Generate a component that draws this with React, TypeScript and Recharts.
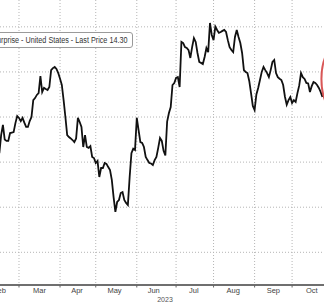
import React from "react";
import { LineChart, Line, XAxis, YAxis, CartesianGrid } from "recharts";

// Trading-day index counted from 1 Mar 2023 (weekdays only)
const firstTradingDay = -12;
const surprise = [
  -13.0, -16.0, -8.0, -3.5, -10.0, -10.6, -10.6, -7.1, -6.9, -6.7, -2.7, 0.4,
  -0.4, -1.8, -0.4, -2.5, -4.4, -4.4, -1.8, 0.0, 7.5, 8.4, 9.8, 10.6,
  18.2, 11.1, 12.9, 12.4, 12.0, 13.3, 20.8, 21.7, 22.2, 21.3, 19.5, 17.0,
  14.2, 7.5, 0.0, -8.0, -8.9, -9.5, -10.2, -11.1, -9.5, -0.4, -2.2, -4.4,
  -13.3, -8.0, -13.3, -13.7, -12.9, -17.7, -18.2, -20.4, -19.5, -26.6, -22.6, -22.6,
  -20.4, -20.8, -22.2, -23.5, -27.9, -35.5, -42.1, -37.7, -36.8, -33.7, -33.3, -36.8,
  -38.1, -39.0, -26.6, -16.0, -14.0, -14.6, -0.4, -5.8, -11.1, -11.5, -13.3, -17.7,
  -19.1, -20.4, -20.6, -21.3, -19.1, -17.7, -13.7, -9.3, -10.6, -15.0, -17.0, -2.0,
  1.8, 4.4, 14.2, 15.1, 17.3, 17.7, 13.3, 33.3, 32.8, 31.0, 30.6, 29.7,
  26.2, 31.0, 35.0, 33.3, 28.4, 24.4, 24.0, 23.5, 26.6, 30.6, 28.8, 41.7,
  36.4, 34.1, 40.1, 38.6, 37.3, 37.7, 38.2, 38.6, 37.7, 34.1, 31.0, 29.7,
  28.8, 35.5, 38.6, 35.5, 32.8, 28.4, 20.8, 20.0, 19.5, 16.0, 10.6, 4.9,
  3.1, 10.0, 12.9, 16.4, 20.0, 22.2, 20.8, 19.5, 17.7, 20.8, 24.4, 25.3,
  19.5, 17.7, 17.0, 16.4, 14.2, 9.0, 5.5, 7.5, 8.9, 6.2, 7.5, 6.7,
  10.6, 14.0, 19.5, 17.7, 16.9, 15.1, 14.9, 11.1, 13.7, 15.5, 15.1, 14.2,
  12.9, 11.1, 8.9,
];

const monthStarts = [0, 23, 43, 66, 88, 109, 132, 153];
const monthLabelPos = [-11, 11.5, 32.5, 53.5, 75.5, 98, 120, 142.5, 164];
const monthLabels = ["Feb", "Mar", "Apr", "May", "Jun", "Jul", "Aug", "Sep", "Oct"];
const yearLabel = "2023";
const yTicks = [-60, -40, -20, 0, 20, 40];
const xDomain: [number, number] = [-14, 172];
const yDomain: [number, number] = [-74.5, 51.9];
const seriesName = "Citi Economic Surprise - United States";
const lastPrice = "14.30";

const data = surprise.map((v, i) => ({ day: firstTradingDay + i, value: v }));
const axisTicks = [...monthStarts, ...monthLabelPos].sort((a, b) => a - b);

const FONT = "'Liberation Sans', Arial, sans-serif";

const scaleOf = (axis: any) => {
  const s = axis && axis.scale;
  if (!s) return null;
  if (typeof s === "function") return (v: number) => s(v);
  if (typeof s.map === "function") return (v: number) => s.map(v);
  return null;
};

const monthGridX = ({ xAxis }: any) => {
  const s = scaleOf(xAxis);
  return s ? monthStarts.map((t) => s(t)) : [];
};
const valueGridY = ({ yAxis }: any) => {
  const s = scaleOf(yAxis);
  return s ? yTicks.map((v) => s(v)) : [];
};
const baseLineY = ({ yAxis }: any) => {
  const s = scaleOf(yAxis);
  return s ? [s(yDomain[0])] : [];
};

const AxisTick = (props: any) => {
  const { x, y, payload } = props;
  const v = payload.value;
  if (monthStarts.indexOf(v) >= 0) {
    return <line x1={x} x2={x} y1={y} y2={y + 2.5} stroke="#666" strokeWidth={1} />;
  }
  const i = monthLabelPos.indexOf(v);
  return (
    <text
      x={x}
      y={y + 3}
      dy="0.71em"
      textAnchor="middle"
      fill="#444"
      fontSize={7.5}
      fontFamily={FONT}
    >
      {i >= 0 ? monthLabels[i] : ""}
    </text>
  );
};

const LastDot = (props: any) => {
  const { cx, cy, index } = props;
  if (index !== data.length - 1) return <g key={`d${index}`} />;
  return (
    <ellipse
      key="highlight"
      cx={cx + 11}
      cy={cy - 18}
      rx={12}
      ry={30}
      fill="none"
      stroke="#d23a3a"
      strokeOpacity={0.85}
      strokeWidth={2}
    />
  );
};

export default function App() {
  return (
    <div
      style={{
        position: "absolute",
        left: 0,
        top: 0,
        width: 324,
        height: 302,
        overflow: "hidden",
        background: "#fff",
      }}
    >
      <div style={{ position: "absolute", left: -6, top: 0 }}>
        <LineChart
          width={332}
          height={302}
          data={data}
          margin={{ top: 0, right: 0, bottom: 0, left: 0 }}
        >
          <CartesianGrid
            stroke="#b5b5b5"
            strokeDasharray="1 2"
            verticalCoordinatesGenerator={monthGridX}
            horizontalCoordinatesGenerator={valueGridY}
          />
          <CartesianGrid
            vertical={false}
            stroke="#666"
            strokeWidth={1.3}
            horizontalCoordinatesGenerator={baseLineY}
          />
          <XAxis
            dataKey="day"
            type="number"
            domain={xDomain}
            ticks={axisTicks}
            interval={0}
            tick={<AxisTick />}
            tickSize={0}
            tickMargin={0}
            height={17}
            axisLine={{ stroke: "#666", strokeWidth: 1.3 }}
            tickLine={false}
            label={{
              value: yearLabel,
              position: "insideBottom",
              offset: 0,
              dx: 5,
              fill: "#555",
              fontSize: 7,
              fontFamily: FONT,
            }}
          />
          <YAxis hide type="number" domain={yDomain} ticks={yTicks} />
          <Line
            type="linear"
            dataKey="value"
            stroke="#111"
            strokeWidth={1.8}
            dot={LastDot}
            activeDot={false}
            isAnimationActive={false}
          />
        </LineChart>
      </div>
      <div
        style={{
          position: "absolute",
          left: -80,
          top: 32,
          width: 211,
          height: 14,
          border: "1px solid #9a9a9a",
          borderRadius: 3,
          background: "#fff",
          overflow: "hidden",
        }}
      >
        <div
          style={{
            position: "absolute",
            right: 5,
            top: 0,
            fontFamily: FONT,
            fontSize: 8.3,
            lineHeight: "14px",
            color: "#333",
            whiteSpace: "nowrap",
            transform: "scaleX(0.87)",
            transformOrigin: "right center",
          }}
        >
          {seriesName} - Last Price {lastPrice}
        </div>
      </div>
    </div>
  );
}
